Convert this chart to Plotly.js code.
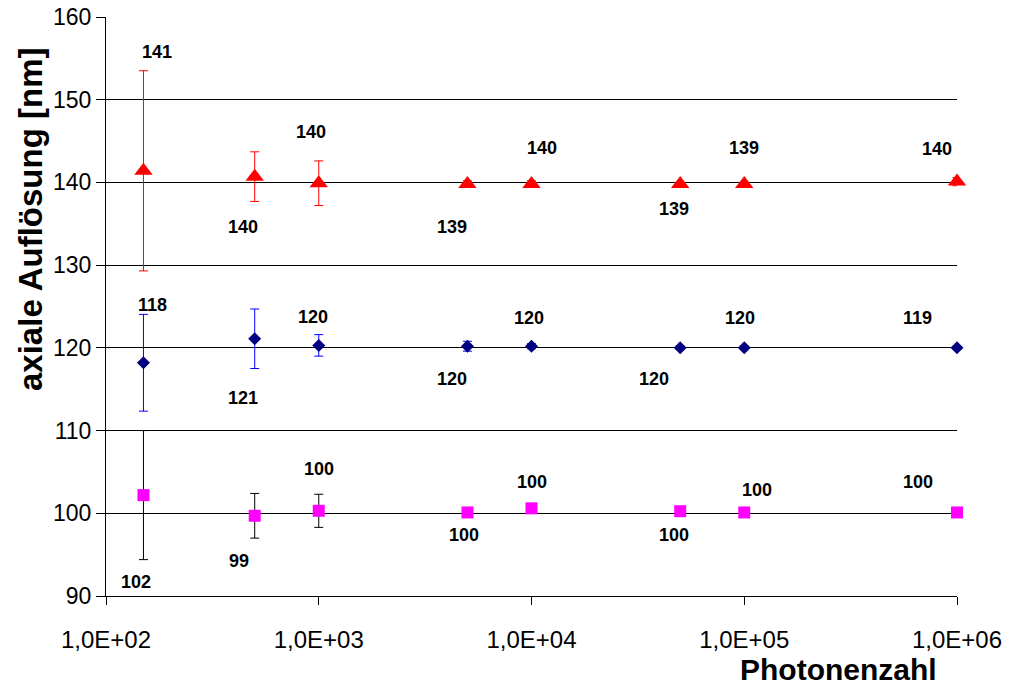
<!DOCTYPE html>
<html>
<head>
<meta charset="utf-8">
<script src="https://cdn.plot.ly/plotly-3.0.1.min.js"></script>
<style>html,body{margin:0;padding:0;background:#fff;}#chart{width:1010px;height:687px;}</style>
</head>
<body>
<div id="chart"></div>
<script>
// ---- data ----
const photons = [150, 500, 1000, 5000, 10000, 50000, 100000, 1000000];

const resTri = [141.4, 140.7, 139.9, 139.8, 139.8, 139.8, 139.8, 140.1];
const errTri = [12.1, 3.0, 2.7, 0.4, 0.4, 0.2, 0.2, 0.5];
const lblTri = ['141', '140', '140', '139', '140', '139', '139', '140'];

const resDia = [118.2, 121.1, 120.3, 120.2, 120.2, 120.0, 120.0, 120.0];
const errDia = [5.85, 3.6, 1.3, 0.6, 0.3, 0.2, 0.2, 0.2];
const lblDia = ['118', '121', '120', '120', '120', '120', '120', '119'];

const resSq = [102.2, 99.7, 100.3, 100.1, 100.6, 100.25, 100.1, 100.1];
const errSq = [7.8, 2.7, 2.0, 0.3, 0.5, 0.2, 0.2, 0.2];
const lblSq = ['102', '99', '100', '100', '100', '100', '100', '100'];

const xTickVals = [100, 1000, 10000, 100000, 1000000];
const xTickText = ['1,0E+02', '1,0E+03', '1,0E+04', '1,0E+05', '1,0E+06'];

// ---- label placement (pixel offsets from each point) ----
const offTri = {dx: [14, -12, -8, -15, 10, -6, 0, -20], dy: [-119, 50, -51, 43, -36, 25, -36, -33]};
const offDia = {dx: [9, -12, -6, -15, -3, -26, -4, -40], dy: [-58, 59, -28, 33, -28, 31, -30, -30]};
const offSq  = {dx: [-7, -16, 0, -3, 0, -6, 13, -39], dy: [87, 45, -42, 23, -26, 24, -22, -30]};

const FONT = 'Liberation Sans, Arial, sans-serif';

function series(y, err, symbol, size, color, errColor) {
  return {
    x: photons, y: y, type: 'scatter', mode: 'markers',
    cliponaxis: false,
    marker: {symbol: symbol, size: size, color: color, line: {width: 0}},
    error_y: {type: 'data', array: err, visible: true, color: errColor, thickness: 1, width: 4.5},
    hoverinfo: 'x+y', showlegend: false
  };
}

const traces = [
  series(resSq, errSq, 'square', 12, '#FF00FF', '#000000'),
  series(resDia, errDia, 'diamond', 10, '#000080', '#0000FF'),
  series(resTri, errTri, 'triangle-up', 16, '#FF0000', '#FF0000')
];

const annotations = [];
function addLabels(y, labels, off) {
  for (let i = 0; i < photons.length; i++) {
    annotations.push({
      x: Math.log10(photons[i]), y: y[i], xref: 'x', yref: 'y',
      text: labels[i], showarrow: false,
      xanchor: 'center', yanchor: 'middle',
      xshift: off.dx[i], yshift: -off.dy[i],
      font: {family: FONT, size: 18, color: '#000', weight: 'bold'}
    });
  }
}
addLabels(resTri, lblTri, offTri);
addLabels(resDia, lblDia, offDia);
addLabels(resSq, lblSq, offSq);

// axis titles
annotations.push({
  xref: 'paper', yref: 'paper', x: (31 - 106) / 851, y: (596 - 220) / 579,
  text: 'axiale Auflösung [nm]', textangle: -90, showarrow: false,
  xanchor: 'center', yanchor: 'middle',
  font: {family: FONT, size: 33, color: '#000', weight: 'bold'}
});
annotations.push({
  xref: 'paper', yref: 'paper', x: (838 - 106) / 851, y: (596 - 669) / 579,
  text: 'Photonenzahl', showarrow: false,
  xanchor: 'center', yanchor: 'middle',
  font: {family: FONT, size: 30, color: '#000', weight: 'bold'}
});

const layout = {
  width: 1010, height: 687,
  margin: {l: 106, r: 53, t: 17, b: 91, pad: 0},
  paper_bgcolor: '#ffffff', plot_bgcolor: '#ffffff',
  showlegend: false,
  font: {family: FONT, color: '#000'},
  xaxis: {
    type: 'log', range: [2, 6],
    tickvals: xTickVals, ticktext: xTickText,
    showgrid: false, zeroline: false,
    showline: true, linecolor: '#000', linewidth: 1,
    ticks: 'outside', ticklen: 8, tickcolor: '#000', tickwidth: 1,
    tickfont: {family: FONT, size: 24, color: '#000'},
    ticklabelstandoff: 14
  },
  yaxis: {
    range: [90, 160], dtick: 10, tick0: 90,
    showgrid: true, gridcolor: '#000', gridwidth: 1,
    zeroline: false,
    showline: true, linecolor: '#000', linewidth: 1,
    ticks: 'outside', ticklen: 9, tickcolor: '#000', tickwidth: 1,
    tickfont: {family: FONT, size: 23, color: '#000'}
  },
  annotations: annotations
};

Plotly.newPlot('chart', traces, layout, {displayModeBar: false, staticPlot: true});
</script>
</body>
</html>
